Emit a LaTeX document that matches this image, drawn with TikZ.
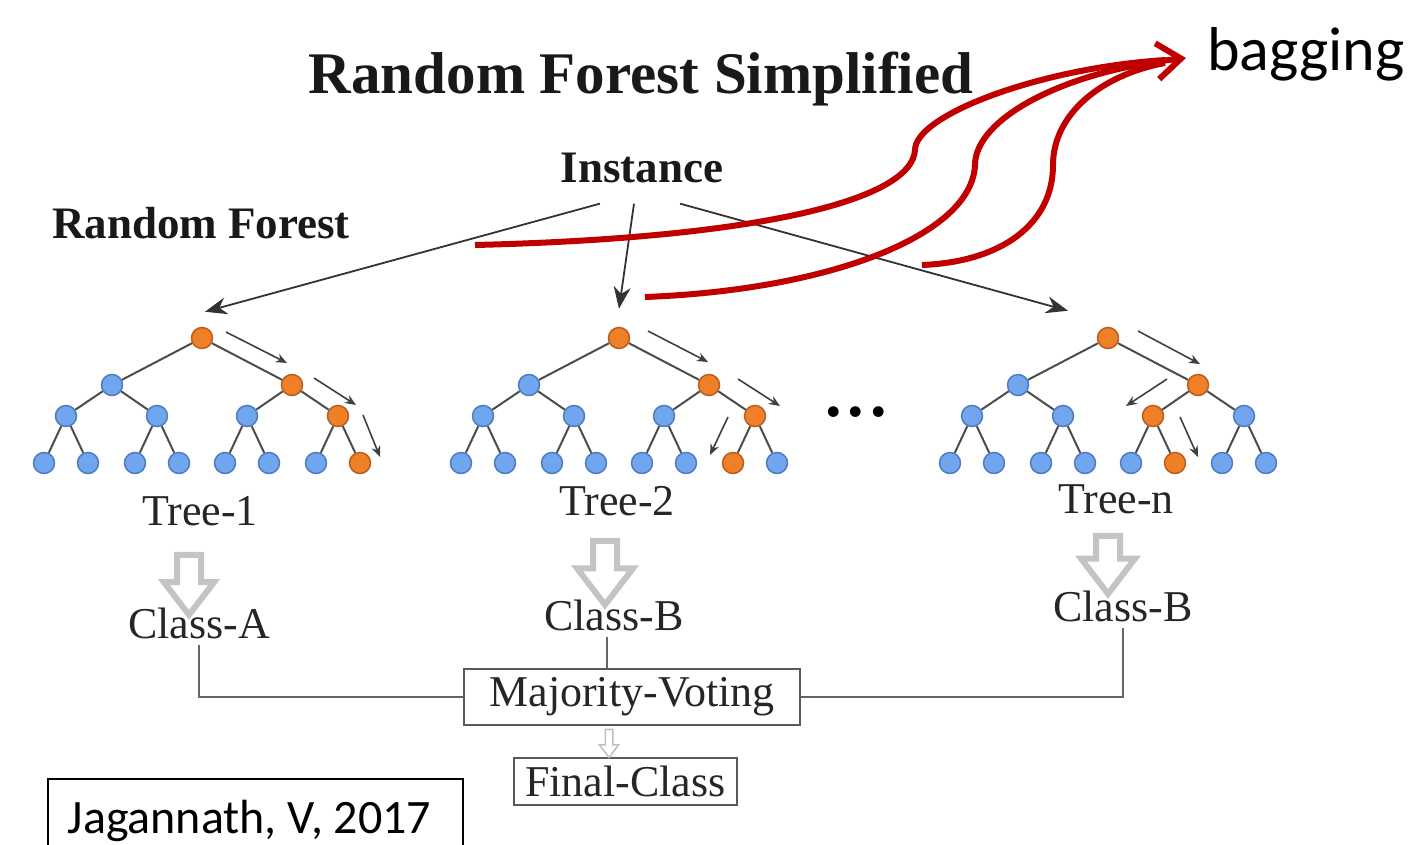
\documentclass[tikz,border=0pt]{standalone}
\usepackage{fontspec}
\setmainfont{Liberation Serif}
\newfontfamily\calibri{Carlito}
\usepackage{tikz}
\usetikzlibrary{shapes,shapes.arrows,arrows.meta,positioning}
\definecolor{rfblue}{RGB}{112,166,238}
\definecolor{rfblueline}{RGB}{78,122,198}
\definecolor{rforange}{RGB}{240,128,40}
\definecolor{rforangeline}{RGB}{186,94,30}
\definecolor{rfgray}{RGB}{196,196,196}
\definecolor{rfred}{RGB}{192,0,0}
\tikzstyle{tnode} = [circle, line width=1.5pt, minimum size=21pt, inner sep=0pt]
\tikzstyle{branch} = [draw=black!70, line width=2pt]
\tikzstyle{hint} = [-{Stealth[length=11pt,width=9pt]}, draw=black!75, line width=1.6pt]
\tikzstyle{pick} = [-{Stealth[length=22pt,width=17pt]}, draw=black!80, line width=1.8pt]
\tikzstyle{link} = [draw=black!60, line width=2pt]
\tikzstyle{word} = [text=black!85, font=\fontsize{44}{50}\selectfont, inner sep=6pt]
\tikzstyle{heading} = [text=black!90, font=\fontsize{45}{52}\selectfont\bfseries, inner sep=4pt]
\tikzstyle{box} = [word, draw=black!65, line width=2.5pt]
\tikzstyle{hollow} = [single arrow, draw=rfgray, fill=white, line width=6pt, rotate=-90, inner sep=9pt, single arrow head extend=13pt, single arrow tip angle=75]
\tikzstyle{bag} = [draw=rfred, line width=6pt]

% one decision tree: name, x of the root, nodes on the path
\newcommand{\rftree}[3]{%
  \foreach \i/\dx/\y in {1/0/338,2/-90/385,3/90/385,4/-136/416,5/-45/416,6/45/416,7/136/416,8/-158/463,9/-114/463,10/-67/463,11/-23/463,12/23/463,13/67/463,14/114/463,15/158/463}{
    \gdef\rffill{rfblue}\gdef\rfline{rfblueline}
    \foreach \k in {#3}{\ifnum\k=\i\relax\gdef\rffill{rforange}\gdef\rfline{rforangeline}\fi}
    \node[tnode, fill=\rffill, draw=\rfline] (#1-\i) at ({#2+\dx},\y) {};
  }
  \foreach \i in {2,...,15}{
    \pgfmathtruncatemacro{\rfup}{\i/2}
    \draw[branch] (#1-\rfup) -- (#1-\i);
  }
}

\begin{document}
\begin{tikzpicture}[x=1pt, y=-1pt]
    \useasboundingbox (0,0) rectangle (1410,844);
    \node [heading, font=\fontsize{59}{64}\selectfont\bfseries, anchor=base] (title) at (641,93) {Random Forest Simplified};
    \node [heading, anchor=base] (inst) at (642,182) {Instance};
    \node [heading, anchor=base] (forest) at (201,238) {Random Forest};

    \rftree{t1}{202}{1,3,7,15}
    \rftree{t2}{619}{1,3,7,14}
    \rftree{tn}{1108}{1,3,6,13}
    \node [font=\fontsize{66}{70}\selectfont\bfseries, anchor=base] (dots) at (856,416) {.\hspace{6pt}.\hspace{6pt}.};

    \draw [pick] ([xshift=-42pt,yshift=-17pt]inst.south) -- ([xshift=3pt,yshift=15pt]t1-1.north);
    \draw [pick] ([xshift=-8pt,yshift=-17pt]inst.south) -- ([yshift=18pt]t2-1.north);
    \draw [pick] ([xshift=38pt,yshift=-17pt]inst.south) -- ([xshift=-40pt,yshift=16pt]tn-1.north);

    % path taken through each tree
    \draw [hint] ([shift={(24,-6)}]t1-1.center) -- ([shift={(85,25)}]t1-1.center);
    \draw [hint] ([shift={(22,-7)}]t1-3.center) -- ([shift={(64,20)}]t1-3.center);
    \draw [hint] ([shift={(25,-1)}]t1-7.center) -- ([shift={(42,41)}]t1-7.center);
    \draw [hint] ([shift={(29,-7)}]t2-1.center) -- ([shift={(89,24)}]t2-1.center);
    \draw [hint] ([shift={(29,-6)}]t2-3.center) -- ([shift={(71,21)}]t2-3.center);
    \draw [hint] ([shift={(-27,1)}]t2-7.center) -- ([shift={(-45,39)}]t2-7.center);
    \draw [hint] ([shift={(30,-7)}]tn-1.center) -- ([shift={(92,26)}]tn-1.center);
    \draw [hint] ([shift={(-31,-6)}]tn-3.center) -- ([shift={(-72,21)}]tn-3.center);
    \draw [hint] ([shift={(27,1)}]tn-6.center) -- ([shift={(45,41)}]tn-6.center);

    \node [word, anchor=base] (tree1) at (200,525) {Tree-1};
    \node [word, anchor=base] (tree2) at (617,515) {Tree-2};
    \node [word, anchor=base] (treen) at (1116,513) {Tree-n};
    \node [hollow, minimum height=60pt] (down1) at (189,577) {};
    \node [hollow, minimum height=64pt, single arrow head extend=16pt] (down2) at (605,565) {};
    \node [hollow, minimum height=58pt, single arrow head extend=15pt] (downn) at (1108,557) {};
    \node [word, anchor=base] (classA) at (199,638) {Class-A};
    \node [word, anchor=base] (classB) at (614,630) {Class-B};
    \node [word, anchor=base] (classBn) at (1123,621) {Class-B};

    \node [box, minimum width=336pt, minimum height=56pt] (vote) at (632,697) {Majority-Voting};
    \node [box, minimum width=223pt, minimum height=47pt, inner sep=2pt] (final) at (625.5,781.5) {Final-Class};
    \node [hollow, draw=black!25, line width=1.5pt, inner sep=3pt, single arrow head extend=6pt, minimum height=28pt] (down) at (609,741) {};
    \draw [link] (classA.south) |- (vote.west);
    \draw [link] ([xshift=-7pt]classB.south) -- ([xshift=-7pt]classB.south |- vote.north);
    \draw [link] (classBn.south) |- (vote.east);

    % bagging
    \node [font=\calibri\fontsize{62}{70}\selectfont, anchor=base west, inner sep=0pt] (bagging) at (1207,70) {bagging};
    \coordinate (bagA) at (475,245);
    \coordinate (bagB) at (645,297);
    \coordinate (bagC) at (922,265);
    \coordinate (bagtip) at (1186,58);
    \draw [bag] (bagA) .. controls (760,238) and (912,200) .. (915,150) .. controls (915,115) and (1040,68) .. (1165,60);
    \draw [bag] (bagC) .. controls (1000,262) and (1053,225) .. (1053,165) .. controls (1053,115) and (1100,75) .. (1165,63);
    \draw [bag, -{Straight Barb[length=24pt,width=36pt]}] (bagB) .. controls (830,290) and (972,235) .. (975,165) .. controls (975,120) and (1060,72) .. (bagtip);

    \node [draw=black, line width=2pt, font=\calibri\fontsize{48}{54}\selectfont, anchor=north west, minimum width=415pt, minimum height=84pt, text height=34pt, text depth=10pt, xshift=0pt] (cite) at (47,778) {\hspace*{-12pt}Jagannath, V, 2017};
\end{tikzpicture}
\end{document}
